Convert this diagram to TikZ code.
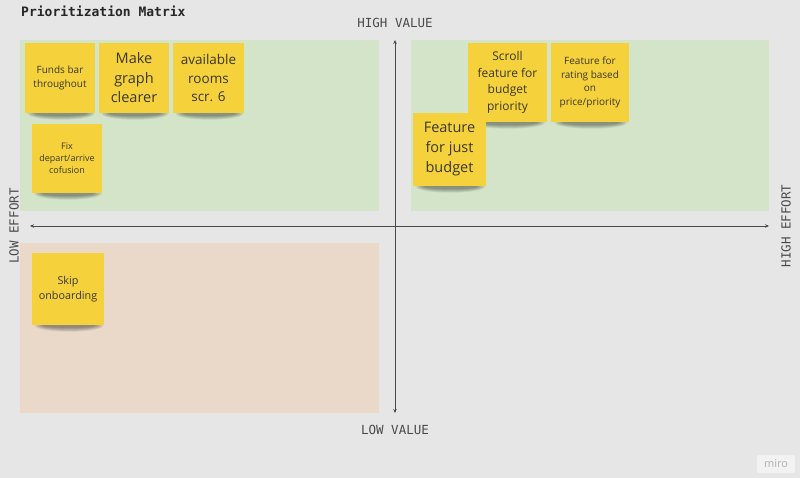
\documentclass[tikz,border=0pt]{standalone}
\usepackage{fontspec}
\setmainfont{Open Sans}
\newfontfamily\monofont{DejaVu Sans Mono}
\usetikzlibrary{arrows.meta,calc}
\definecolor{bgc}{HTML}{E6E6E6}
\definecolor{greenq}{HTML}{D4E4C8}
\definecolor{beigeq}{HTML}{EAD9C9}
\definecolor{notey}{HTML}{F5D13C}
\definecolor{notetxt}{HTML}{3A3828}
\definecolor{axisc}{HTML}{4A4A4A}
\pgfdeclarelayer{backq}
\pgfdeclarelayer{shad}
\pgfsetlayers{backq,shad,main}
\tikzset{
  quad/.style={draw=none, inner sep=0pt, anchor=north west},
  note/.style={fill=notey, draw=none, inner sep=1pt, align=center, text=notetxt},
  shadowfill/.style={fill=black, fill opacity=0.07},
  axislbl/.style={font=\monofont\fontsize{12.5}{14}\selectfont, text=axisc, inner sep=0pt},
  axisline/.style={draw=axisc, line width=0.8pt, -{Stealth[length=4pt,width=3.5pt]}},
}
\newcommand{\noteshadow}[1]{%
  \foreach \k in {1,...,6}{%
  \path let \p1=(#1.south west), \p2=(#1.south east) in
    [shadowfill] ($(\p1)!0.5!(\p2)+(1,0.5)$) ellipse ({0.34*(\x2-\x1)+1.6*\k pt} and {1.5pt+0.75*\k pt});}}
\begin{document}
\begin{tikzpicture}[x=1pt,y=-1pt]
\begin{pgfonlayer}{backq}
\fill[bgc] (0,0) rectangle (800,478);
% quadrants
\node[quad, fill=greenq, minimum width=359pt, minimum height=171pt] (tl) at (20,40) {};
\node[quad, fill=greenq, minimum width=358pt, minimum height=171pt] (tr) at (411,40) {};
\node[quad, fill=beigeq, minimum width=359pt, minimum height=170pt] (bl) at (20,243) {};
\end{pgfonlayer}
\useasboundingbox (0,0) rectangle (800,478);
% title
\node[anchor=west, font=\monofont\bfseries\fontsize{13}{15}\selectfont, text=black!85, inner sep=0pt] (title) at (21,11) {Prioritization Matrix};
% axes
\coordinate (ctr) at (395,226);
\coordinate (vtop) at (395,40);
\coordinate (vbot) at (395,413);
\coordinate (hl) at (30,226);
\coordinate (hr) at (769,226);
\draw[axisline] (ctr) -- (vtop);
\draw[axisline] (ctr) -- (vbot);
\draw[axisline] (ctr) -- (hl);
\draw[axisline] (ctr) -- (hr);
\node[axislbl] (hv) at (395,23) {HIGH VALUE};
\node[axislbl] (lv) at (395,430) {LOW VALUE};
\node[axislbl, rotate=90] (le) at (14,226) {LOW EFFORT};
\node[axislbl, rotate=90] (he) at (786,226) {HIGH EFFORT};
% notes
\node[note, minimum width=70pt, minimum height=70pt, font=\fontsize{10}{14}\selectfont] (n1) at (60,78) {Funds bar\\throughout};
\node[note, minimum width=70pt, minimum height=70pt, font=\fontsize{14.5}{19.5}\selectfont] (n2) at (134,78) {Make\\graph\\clearer};
\node[note, minimum width=71pt, minimum height=70pt, font=\fontsize{13.5}{18.5}\selectfont] (n3) at (208.5,78) {available\\rooms\\scr. 6};
\node[note, minimum width=70pt, minimum height=69pt, font=\fontsize{9}{12.2}\selectfont] (n4) at (67,158.5) {Fix\\depart/arrive\\cofusion};
\node[note, minimum width=72pt, minimum height=72pt, font=\fontsize{10.8}{15}\selectfont] (n5) at (68,289) {Skip\\onboarding};
\node[note, minimum width=79pt, minimum height=79pt, font=\fontsize{12}{16.7}\selectfont] (n6) at (507.5,82.5) {Scroll\\feature for\\budget\\priority};
\node[note, minimum width=78pt, minimum height=79pt, font=\fontsize{10}{13.7}\selectfont] (n7) at (590,82.5) {Feature for\\rating based\\on\\price/priority};
\node[note, minimum width=73pt, minimum height=73pt, font=\fontsize{14.5}{20}\selectfont] (n8) at (449.5,149.5) {Feature\\for just\\budget};
% shadows
\begin{pgfonlayer}{shad}
\noteshadow{n1}
\noteshadow{n2}
\noteshadow{n3}
\noteshadow{n4}
\noteshadow{n5}
\noteshadow{n6}
\noteshadow{n7}
\noteshadow{n8}
\end{pgfonlayer}
% miro badge
\node[fill=white!50!bgc, rounded corners=2pt, minimum width=38pt, minimum height=18pt, text=black!30, font=\fontsize{11}{12}\selectfont, inner sep=0pt] (miro) at (776,464) {miro};
\end{tikzpicture}
\end{document}
